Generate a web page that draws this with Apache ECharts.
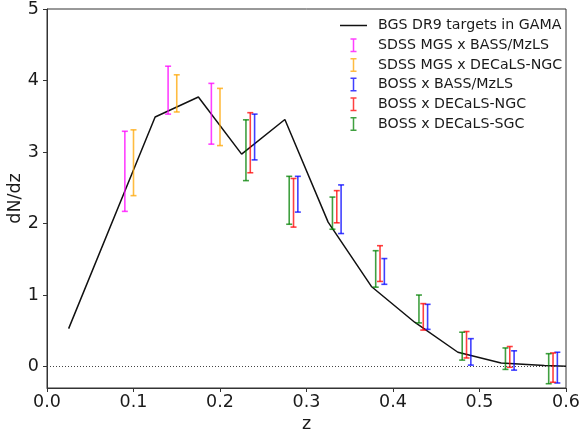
<!DOCTYPE html>
<html>
<head>
<meta charset="utf-8">
<script src="https://cdn.jsdelivr.net/npm/echarts@6/dist/echarts.min.js"></script>
<style>
html,body{margin:0;padding:0;background:#fff;}
#chart{width:582px;height:435px;}
</style>
</head>
<body>
<div id="chart"></div>
<script>
// ---- data ----
const lineZ = [0.025, 0.125, 0.175, 0.225, 0.275, 0.325, 0.375, 0.425, 0.475, 0.525, 0.575, 0.6];
const lineVals = [0.53, 3.49, 3.77, 2.97, 3.455, 2.02, 1.12, 0.62, 0.20, 0.05, 0.015, 0.005];

const mgsBassZ = [0.09, 0.14, 0.19];
const mgsBassLo = [2.17, 3.53, 3.11];
const mgsBassHi = [3.29, 4.20, 3.96];

const mgsNgcZ = [0.10, 0.15, 0.20];
const mgsNgcLo = [2.39, 3.56, 3.09];
const mgsNgcHi = [3.31, 4.08, 3.89];

const bossBassZ = [0.24, 0.29, 0.34, 0.39, 0.44, 0.49, 0.54, 0.59];
const bossBassLo = [2.89, 2.16, 1.86, 1.15, 0.52, 0.02, -0.05, -0.23];
const bossBassHi = [3.53, 2.66, 2.54, 1.51, 0.87, 0.39, 0.22, 0.20];

const bossNgcZ = [0.235, 0.285, 0.335, 0.385, 0.435, 0.485, 0.535, 0.585];
const bossNgcLo = [2.71, 1.95, 2.01, 1.19, 0.51, 0.12, -0.01, -0.22];
const bossNgcHi = [3.55, 2.63, 2.46, 1.69, 0.88, 0.49, 0.28, 0.19];

const bossSgcZ = [0.23, 0.28, 0.33, 0.38, 0.43, 0.48, 0.53, 0.58];
const bossSgcLo = [2.60, 1.99, 1.92, 1.11, 0.61, 0.09, -0.04, -0.24];
const bossSgcHi = [3.45, 2.66, 2.37, 1.62, 1.00, 0.48, 0.26, 0.18];

const xTicks = [0, 0.1, 0.2, 0.3, 0.4, 0.5, 0.6];
const yTicks = [0, 1, 2, 3, 4, 5];

const names = {
  line: 'BGS DR9 targets in GAMA',
  mgsBass: 'SDSS MGS x BASS/MzLS',
  mgsNgc: 'SDSS MGS x DECaLS-NGC',
  bossBass: 'BOSS x BASS/MzLS',
  bossNgc: 'BOSS x DECaLS-NGC',
  bossSgc: 'BOSS x DECaLS-SGC'
};

// ---- build ----
const FONT = 'DejaVu Sans';
function zip3(z, lo, hi) { return z.map((v, i) => [v, lo[i], hi[i]]); }

function renderErr(params, api) {
  const x = api.value(0), lo = api.value(1), hi = api.value(2);
  const a = api.coord([x, lo]);
  const b = api.coord([x, hi]);
  const cw = 3;
  const style = { stroke: api.visual('color'), lineWidth: 1.6, opacity: 0.75 };
  return {
    type: 'group',
    children: [
      { type: 'line', shape: { x1: a[0], y1: a[1], x2: b[0], y2: b[1] }, style: style },
      { type: 'line', shape: { x1: a[0] - cw, y1: a[1], x2: a[0] + cw, y2: a[1] }, style: style },
      { type: 'line', shape: { x1: b[0] - cw, y1: b[1], x2: b[0] + cw, y2: b[1] }, style: style }
    ]
  };
}

function errSeries(name, color, z, lo, hi) {
  return {
    type: 'custom',
    name: name,
    renderItem: renderErr,
    itemStyle: { color: color, opacity: 0.75 },
    encode: { x: 0, y: [1, 2] },
    data: zip3(z, lo, hi),
    clip: true,
    z: 3
  };
}

const errIcon = 'path://M0,0H6V1.5H3.75V12.5H6V14H0V12.5H2.25V1.5H0Z';

const option = {
  animation: false,
  backgroundColor: '#fff',
  grid: { left: 47, right: 16, top: 9, bottom: 47, containLabel: false, outerBoundsMode: 'none', show: true, borderColor: '#333', borderWidth: 1, backgroundColor: 'transparent' },
  legend: {
    orient: 'vertical',
    left: 340,
    top: 18.5,
    padding: 0,
    itemWidth: 27,
    itemHeight: 14,
    itemGap: 5.7,
    textStyle: { fontFamily: FONT, fontSize: 14.2, color: '#1a1a1a', lineHeight: 14, padding: [0, 0, 0, 6] },
    data: [
      { name: names.line, icon: 'path://M0,0H27V1.5H0Z' },
      { name: names.mgsBass, icon: errIcon },
      { name: names.mgsNgc, icon: errIcon },
      { name: names.bossBass, icon: errIcon },
      { name: names.bossNgc, icon: errIcon },
      { name: names.bossSgc, icon: errIcon }
    ]
  },
  xAxis: {
    type: 'value',
    min: 0, max: 0.6, interval: 0.1,
    name: 'z', nameLocation: 'middle', nameGap: 23,
    nameTextStyle: { fontFamily: FONT, fontSize: 17.5, color: '#1a1a1a' },
    axisLine: { show: true, onZero: false, lineStyle: { color: '#333', width: 1 } },
    axisTick: { show: true, length: 4, lineStyle: { color: '#333' }, customValues: xTicks },
    axisLabel: { fontFamily: FONT, fontSize: 17.5, color: '#1a1a1a', margin: 5, customValues: xTicks, formatter: v => v.toFixed(1) },
    splitLine: { show: false }
  },
  yAxis: {
    type: 'value',
    min: -0.3, max: 5,
    name: 'dN/dz', nameLocation: 'middle', nameGap: 23, nameRotate: 90, nameMoveOverlap: false,
    nameTextStyle: { fontFamily: FONT, fontSize: 17.5, color: '#1a1a1a' },
    axisLine: { show: true, onZero: false, lineStyle: { color: '#333', width: 1 } },
    axisTick: { show: true, length: 4, lineStyle: { color: '#333' }, customValues: yTicks },
    axisLabel: { fontFamily: FONT, fontSize: 17.5, color: '#1a1a1a', margin: 8, customValues: yTicks, formatter: v => String(v) },
    splitLine: { show: false }
  },
  series: [
    {
      type: 'line',
      name: names.line,
      data: lineZ.map((z, i) => [z, lineVals[i]]),
      symbol: 'none',
      lineStyle: { color: '#111', width: 1.5 },
      itemStyle: { color: '#111' },
      clip: true,
      z: 2,
      markLine: {
        silent: true,
        symbol: 'none',
        label: { show: false },
        lineStyle: { type: [1, 2], color: '#444', width: 1 },
        data: [{ yAxis: 0 }]
      }
    },
    errSeries(names.mgsBass, '#ff00ff', mgsBassZ, mgsBassLo, mgsBassHi),
    errSeries(names.mgsNgc, '#ffa500', mgsNgcZ, mgsNgcLo, mgsNgcHi),
    errSeries(names.bossBass, '#0000ff', bossBassZ, bossBassLo, bossBassHi),
    errSeries(names.bossNgc, '#ff0000', bossNgcZ, bossNgcLo, bossNgcHi),
    errSeries(names.bossSgc, '#008000', bossSgcZ, bossSgcLo, bossSgcHi)
  ]
};

const chart = echarts.init(document.getElementById('chart'), null, { renderer: 'canvas' });
chart.setOption(option);
</script>
</body>
</html>
